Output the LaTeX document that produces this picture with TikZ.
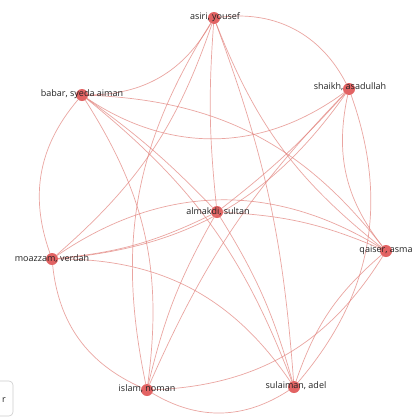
\documentclass[tikz,border=0pt]{standalone}
\usepackage{fontspec}
\newfontfamily\lab{Open Sans}
\definecolor{edgecol}{RGB}{226,128,122}
\definecolor{nodecol}{RGB}{222,72,72}
\definecolor{txtcol}{RGB}{35,35,35}
\begin{document}
\begin{tikzpicture}[x=1pt,y=1pt,
  edge/.style={draw=edgecol,line width=0.7pt,opacity=0.7},
  dot/.style={circle,fill=nodecol,opacity=0.85,minimum size=12pt,inner sep=0pt},
  lbl/.style={font=\lab\fontsize{9}{10}\selectfont,text=txtcol,inner sep=0pt}]
\useasboundingbox (0,0) rectangle (413,-418);
\clip (0,0) rectangle (413,-418);
\fill[white] (0,0) rectangle (413,-418);
% nodes (circles)
\node[dot] (A) at (214,-18) {};
\node[dot] (S) at (349,-89) {};
\node[dot] (B) at (82,-95) {};
\node[dot] (M) at (217,-212) {};
\node[dot] (V) at (52,-259) {};
\node[dot] (Q) at (386,-251) {};
\node[dot] (I) at (147,-390) {};
\node[dot] (U) at (294,-387) {};
% edges
\draw[edge] (A) to[bend left=35] (S);
\draw[edge] (A) to[bend left=30] (B);
\draw[edge] (B) to[bend right=35] (S);
\draw[edge] (S) to[bend left=30] (U);
\draw[edge] (S) to[bend right=25] (Q);
\draw[edge] (B) to[bend right=30] (V);
\draw[edge] (V) to[bend right=30] (I);
\draw[edge] (I) to[bend right=32] (U);
\draw[edge] (U) to[bend left=15] (Q);
\draw[edge] (I) to[bend right=28] (Q);
\draw[edge] (B) to[bend left=25] (Q);
\draw[edge] (V) to[bend left=33] (Q);
\draw[edge] (V) to[bend left=28] (U);
\draw[edge] (V) to[bend right=25] (S);
\draw[edge] (V) to[bend right=10] (M);
\draw[edge] (A) to[bend left=15] (V);
\draw[edge] (A) to[bend right=22] (I);
\draw[edge] (A) to[bend left=8] (U);
\draw[edge] (A) to[bend right=15] (Q);
\draw[edge] (A) to[bend right=5] (M);
\draw[edge] (B) to[bend left=5] (M);
\draw[edge] (B) to[bend left=15] (U);
\draw[edge] (B) to[bend left=20] (I);
\draw[edge] (S) to[bend left=5] (M);
\draw[edge] (S) to[bend right=10] (I);
\draw[edge] (M) to[bend right=8] (I);
\draw[edge] (M) to[bend left=8] (U);
\draw[edge] (M) to[bend left=10] (Q);
% labels
\node[lbl] (lA) at (215,-17) {asiri, yousef};
\node[lbl] (lS) at (350,-87) {shaikh, asadullah};
\node[lbl] (lB) at (82,-94) {babar, syeda aiman};
\node[lbl] (lM) at (218,-212) {almakdi, sultan};
\node[lbl] (lV) at (52,-259) {moazzam, verdah};
\node[lbl] (lQ) at (386,-250) {qaiser, asma};
\node[lbl] (lI) at (147,-389) {islam, noman};
\node[lbl] (lU) at (296,-386) {sulaiman, adel};
% cut-off box bottom left
\draw[black!20,line width=0.6pt,rounded corners=4pt] (-30,-381) rectangle (13,-416);
\node[lbl] (lR) at (4,-400) {r};
\end{tikzpicture}
\end{document}
